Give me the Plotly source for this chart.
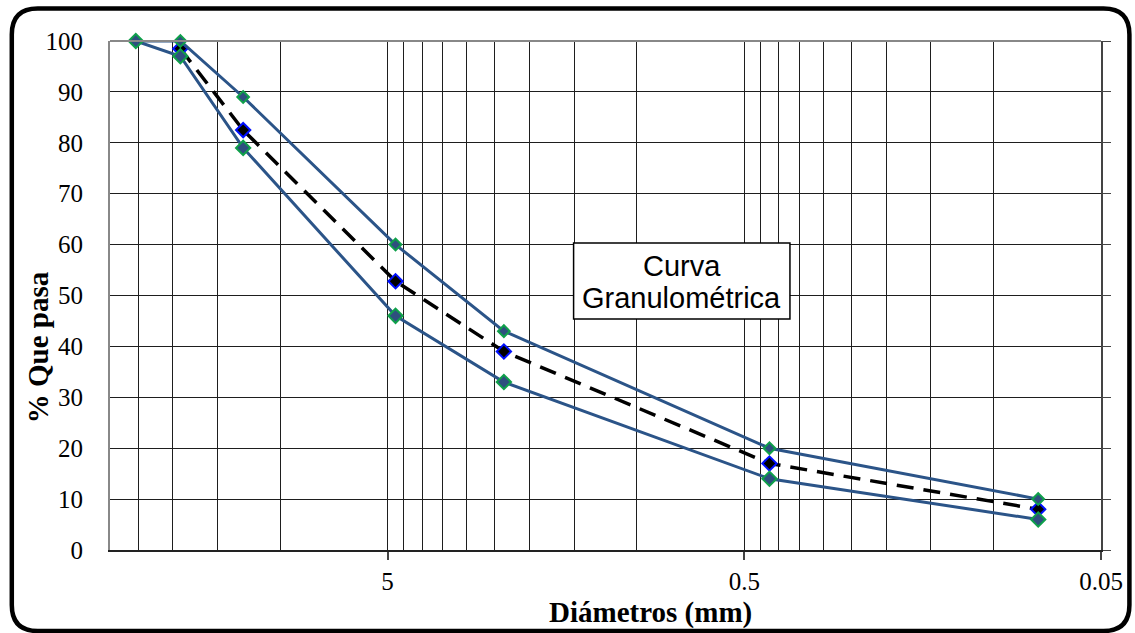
import plotly.graph_objects as go

# ---- data ----
diam_mm = [25.4, 19.05, 12.7, 4.75, 2.36, 0.425, 0.075]
upper_pct = [100, 100, 89, 60, 43, 20, 10]
lower_pct = [100, 97, 79, 46, 33, 14, 6]
mid_diam_mm = [19.05, 12.7, 4.75, 2.36, 0.425, 0.075]
mid_pct = [98.5, 82.5, 52.8, 39, 17, 8]

x_tick_vals = [5, 0.5, 0.05]
x_tick_text = ["5", "0.5", "0.05"]
x_minor_vals = [5 * k for k in range(2, 7)] + [0.5 * k for k in range(2, 10)] + [0.05 * k for k in range(2, 10)]

# ---- layout geometry (pixels) ----
W, H = 1135, 633
L, R, T, B = 110, 1104, 41, 550


def px(x):
    return (x - L) / (R - L)


def py(y):
    return (B - y) / (B - T)


SERIF = "Liberation Serif, Times New Roman, serif"
SANS = "Liberation Sans, Arial, sans-serif"
LINE_BLUE = "#2B5488"
FILL_BLUE = "#2E4F7E"
GREEN = "#0FA04A"

fig = go.Figure()

fig.add_trace(go.Scatter(
    x=mid_diam_mm, y=mid_pct, mode="lines+markers",
    line=dict(color="black", width=3.5, dash="17px,10px"),
    marker=dict(symbol="diamond", size=11, color="black", line=dict(color="#0010FF", width=2)),
    showlegend=False, cliponaxis=False))
fig.add_trace(go.Scatter(
    x=diam_mm, y=upper_pct, mode="lines+markers",
    line=dict(color=LINE_BLUE, width=3),
    marker=dict(symbol="diamond", size=9, color=FILL_BLUE, line=dict(color=GREEN, width=2)),
    showlegend=False, cliponaxis=False))
fig.add_trace(go.Scatter(
    x=diam_mm, y=lower_pct, mode="lines+markers",
    line=dict(color=LINE_BLUE, width=3),
    marker=dict(symbol="diamond", size=11, color=FILL_BLUE, line=dict(color=GREEN, width=2)),
    showlegend=False, cliponaxis=False))
# invisible trace for right-side axis
fig.add_trace(go.Scatter(x=[5], y=[50], yaxis="y2", mode="markers",
                         marker=dict(opacity=0), showlegend=False, hoverinfo="skip"))

GRID = "#1e1e1e"

fig.update_layout(
    width=W, height=H,
    margin=dict(l=L, r=W - R, t=T, b=H - B),
    paper_bgcolor="white", plot_bgcolor="white",
    xaxis=dict(
        type="log", range=[1.4771, -1.30103],
        tickmode="array", tickvals=x_tick_vals, ticktext=x_tick_text,
        ticks="outside", ticklen=8, tickwidth=1.5, tickcolor="#444",
        showgrid=True, gridcolor=GRID, gridwidth=1,
        minor=dict(tickmode="array", tickvals=x_minor_vals, showgrid=True,
                   gridcolor=GRID, gridwidth=1, ticks=""),
        showline=True, linecolor="#222", linewidth=2,
        tickfont=dict(family=SERIF, size=25, color="black"),
        ticklabelstandoff=0,
        zeroline=False,
    ),
    yaxis=dict(
        range=[0, 100], dtick=10, tick0=0,
        showgrid=True, gridcolor=GRID, gridwidth=1,
        showline=True, linecolor="#888", linewidth=2,
        ticks="", tickfont=dict(family=SERIF, size=25, color="black"),
        ticklabelstandoff=20, zeroline=False,
    ),
    yaxis2=dict(
        range=[0, 100], dtick=10, tick0=0, overlaying="y", side="right",
        showgrid=False, showticklabels=False,
        ticks="outside", ticklen=8, tickcolor="#444", tickwidth=1,
        showline=True, linecolor="#444", linewidth=2, zeroline=False,
    ),
)

shapes = []
# top border of the plot area
shapes.append(dict(type="line", xref="paper", yref="paper",
                   x0=px(L), x1=px(R), y0=py(T), y1=py(T),
                   line=dict(color="#888", width=2)))

# outer rounded frame
fx0, fx1, fy0, fy1, r = 11.5, 1132.5, 8.5, 631, 26
path = (f"M {px(fx0 + r)},{py(fy0)} L {px(fx1 - r)},{py(fy0)} "
        f"Q {px(fx1)},{py(fy0)} {px(fx1)},{py(fy0 + r)} "
        f"L {px(fx1)},{py(fy1 - r)} Q {px(fx1)},{py(fy1)} {px(fx1 - r)},{py(fy1)} "
        f"L {px(fx0 + r)},{py(fy1)} Q {px(fx0)},{py(fy1)} {px(fx0)},{py(fy1 - r)} "
        f"L {px(fx0)},{py(fy0 + r)} Q {px(fx0)},{py(fy0)} {px(fx0 + r)},{py(fy0)} Z")
shapes.append(dict(type="path", xref="paper", yref="paper", path=path,
                   line=dict(color="black", width=4.5), fillcolor="rgba(0,0,0,0)", layer="above"))

# annotation box
shapes.append(dict(type="rect", xref="paper", yref="paper",
                   x0=px(575), x1=px(792), y0=py(243), y1=py(319),
                   line=dict(color="black", width=1.5), fillcolor="white", layer="above"))
fig.update_layout(shapes=shapes)

annotations = [
    dict(text="Curva", x=px(683.5), y=py(266), xref="paper", yref="paper",
         showarrow=False, xanchor="center", yanchor="middle",
         font=dict(family=SANS, size=29, color="black")),
    dict(text="Granulométrica", x=px(683.5), y=py(298), xref="paper", yref="paper",
         showarrow=False, xanchor="center", yanchor="middle",
         font=dict(family=SANS, size=29, color="black")),
    dict(text="<b>Diámetros (mm)</b>", x=px(652), y=py(612), xref="paper", yref="paper",
         showarrow=False, xanchor="center", yanchor="middle",
         font=dict(family=SERIF, size=29, color="black")),
    dict(text="<b>% Que pasa</b>", x=px(38), y=py(347), xref="paper", yref="paper",
         showarrow=False, xanchor="center", yanchor="middle", textangle=-90,
         font=dict(family=SERIF, size=29, color="black")),
]
fig.update_layout(annotations=annotations)

fig.write_html("out.html")
